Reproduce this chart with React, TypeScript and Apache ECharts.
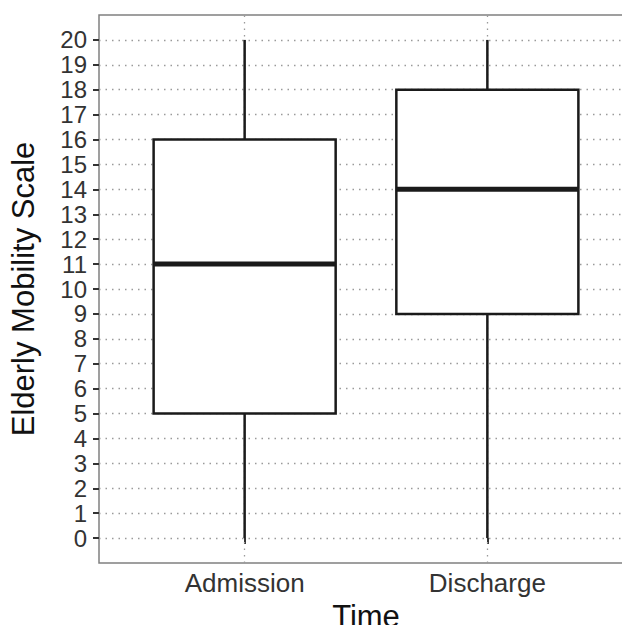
import React, { useEffect, useRef } from "react";
import * as echarts from "echarts";

const categories = ["Admission", "Discharge"];
const whiskerLow = [0, 0];
const q1 = [5, 9];
const median = [11, 14];
const q3 = [16, 18];
const whiskerHigh = [20, 20];
const yTicks = Array.from({ length: 21 }, (_, i) => i);

const FONT = "'Liberation Sans', Arial, Helvetica, sans-serif";

export default function App() {
  const ref = useRef<HTMLDivElement>(null);
  useEffect(() => {
    if (!ref.current) return;
    const chart = echarts.init(ref.current, undefined, { renderer: "svg" });
    const data = categories.map((_, i) => [
      i + 1,
      whiskerLow[i],
      q1[i],
      median[i],
      q3[i],
      whiskerHigh[i],
    ]);
    const boxW = 0.75;
    const ink = "#1a1a1a";
    chart.setOption({
      animation: false,
      backgroundColor: "#ffffff",
      textStyle: { fontFamily: FONT },
      grid: {
        left: 99,
        top: 15,
        right: -3,
        bottom: 70,
        outerBoundsMode: "none",
        containLabel: false,
        show: true,
        borderColor: "#808080",
        borderWidth: 1.5,
        backgroundColor: "transparent",
      },
      xAxis: {
        type: "value",
        min: 0.4,
        max: 2.6,
        axisLine: { show: false },
        axisTick: {
          show: true,
          length: 6,
          customValues: [1, 2],
          lineStyle: { color: "#333", width: 2 },
        },
        axisLabel: {
          customValues: [1, 2],
          formatter: (v: number) => categories[Math.round(v) - 1] ?? "",
          color: "#333",
          fontSize: 26,
          fontFamily: FONT,
          margin: 7,
        },
        splitLine: { show: false },
        name: "Time",
        nameLocation: "middle",
        nameGap: 40,
        nameTextStyle: {
          fontSize: 31,
          lineHeight: 24,
          color: "#111",
          fontFamily: FONT,
        },
      },
      yAxis: {
        type: "value",
        min: -1,
        max: 21,
        interval: 1,
        axisLine: { show: false },
        axisTick: {
          show: true,
          length: 6,
          customValues: yTicks,
          lineStyle: { color: "#333", width: 2 },
        },
        axisLabel: {
          customValues: yTicks,
          color: "#333",
          fontSize: 24,
          lineHeight: 22,
          fontFamily: FONT,
          margin: 12,
        },
        splitLine: {
          show: true,
          lineStyle: { color: "#9a9a9a", width: 1.3, type: [1.5, 5] },
        },
        name: "Elderly Mobility Scale",
        nameLocation: "middle",
        nameRotate: 90,
        nameGap: 60,
        nameTextStyle: { fontSize: 31, color: "#111", fontFamily: FONT },
      },
      series: [
        {
          type: "custom",
          data,
          z: 3,
          renderItem: (params: any, api: any) => {
            const x = api.value(0);
            const lo = api.coord([x, api.value(1)]);
            const b1 = api.coord([x, api.value(2)]);
            const md = api.coord([x, api.value(3)]);
            const b3 = api.coord([x, api.value(4)]);
            const hi = api.coord([x, api.value(5)]);
            const left = api.coord([x - boxW / 2, api.value(3)])[0];
            const right = api.coord([x + boxW / 2, api.value(3)])[0];
            return {
              type: "group",
              children: [
                {
                  type: "line",
                  shape: { x1: lo[0], y1: lo[1], x2: b1[0], y2: b1[1] },
                  style: { stroke: ink, lineWidth: 2.5 },
                },
                {
                  type: "line",
                  shape: { x1: b3[0], y1: b3[1], x2: hi[0], y2: hi[1] },
                  style: { stroke: ink, lineWidth: 2.5 },
                },
                {
                  type: "rect",
                  shape: {
                    x: left,
                    y: b3[1],
                    width: right - left,
                    height: b1[1] - b3[1],
                  },
                  style: { fill: "#ffffff", stroke: ink, lineWidth: 2.5 },
                },
                {
                  type: "line",
                  shape: { x1: left, y1: md[1], x2: right, y2: md[1] },
                  style: { stroke: ink, lineWidth: 5 },
                },
              ],
            };
          },
          markLine: {
            silent: true,
            symbol: "none",
            label: { show: false },
            z: 1,
            lineStyle: { color: "#9a9a9a", width: 1.3, type: [1.5, 5] },
            data: [{ xAxis: 1 }, { xAxis: 2 }],
          },
        },
      ],
    });
    return () => chart.dispose();
  }, []);
  return <div ref={ref} style={{ width: 630, height: 633, margin: -8 }} />;
}
